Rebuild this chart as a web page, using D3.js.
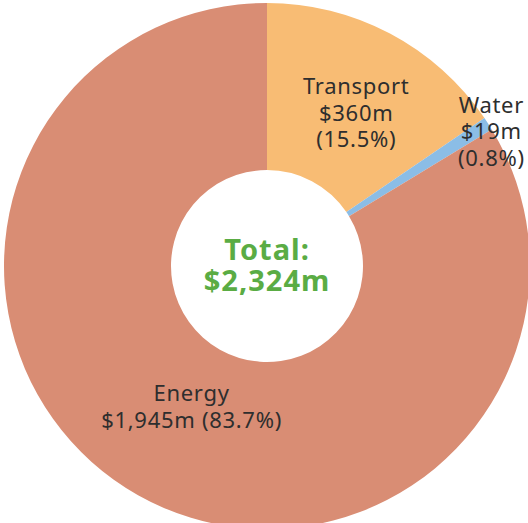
<!DOCTYPE html>
<html>
<head>
    <meta charset="utf-8">
    <title>Spend by sector</title>
    <script src="https://cdnjs.cloudflare.com/ajax/libs/d3/7.8.5/d3.min.js"></script>
    <style>
        body { margin: 0; background: #fff; }
        text {
            font-family: "Noto Sans", sans-serif;
            fill: #2e2e2e;
            text-anchor: middle;
        }
        .label {
            font-size: 22px;
            letter-spacing: 0.7px;
        }
        .total {
            font-size: 29px;
            font-weight: bold;
            letter-spacing: 1px;
            fill: #5aac44;
        }
    </style>
</head>
<body>
<svg id="chart" width="528" height="523"></svg>
<script>
    // data
    var sectors = ["Transport", "Water", "Energy"];
    var spend = [360, 19, 1945];          // $m
    var shares = ["15.5%", "0.8%", "83.7%"];
    var colours = ["#f8bc74", "#8bbde6", "#d98d74"];
    var totalLabel = ["Total:", "$2,324m"];

    var svg = d3.select("#chart"),
        cx = 267,
        cy = 266,
        outerR = 263,
        innerR = 96;

    var data = sectors.map(function(s, i) {
        return { name: s, value: spend[i], share: shares[i], colour: colours[i] };
    });

    var pie = d3.pie()
        .value(function(d) { return d.value; })
        .sort(null);

    var arc = d3.arc()
        .innerRadius(innerR)
        .outerRadius(outerR);

    var g = svg.append("g")
        .attr("transform", "translate(" + cx + "," + cy + ")");

    var arcs = pie(data);

    g.selectAll("path")
        .data(arcs)
        .enter().append("path")
        .attr("d", arc)
        .style("fill", function(d) { return d.data.colour; });

    // label radius differs per slice: water sits out at the rim
    var labelR = { Transport: 178, Water: 262, Energy: 160 };
    var nudge = { Transport: [6, 4], Water: [4, 7], Energy: [3, 1] };
    var lineH = 26.5;

    function labelLines(d) {
        if (d.name === "Energy")
            return [d.name, "$" + d3.format(",")(d.value) + "m (" + d.share + ")"];
        return [d.name, "$" + d.value + "m", "(" + d.share + ")"];
    }

    var labels = g.selectAll(".label")
        .data(arcs)
        .enter().append("text")
        .attr("class", "label")
        .attr("transform", function(d) {
            var r = labelR[d.data.name],
                n = nudge[d.data.name];
            var c = d3.arc().innerRadius(r).outerRadius(r).centroid(d);
            return "translate(" + (c[0] + n[0]) + "," + (c[1] + n[1]) + ")";
        });

    labels.selectAll("tspan")
        .data(function(d) {
            var lines = labelLines(d.data);
            return lines.map(function(t, i) { return { t: t, i: i, n: lines.length }; });
        })
        .enter().append("tspan")
        .attr("x", 0)
        .attr("y", function(d) { return (d.i - (d.n - 1) / 2) * lineH + 8; })
        .text(function(d) { return d.t; });

    g.append("text")
        .attr("class", "total")
        .selectAll("tspan")
        .data(totalLabel)
        .enter().append("tspan")
        .attr("x", 0)
        .attr("y", function(d, i) { return -6 + i * 31; })
        .text(function(d) { return d; });
</script>
</body>
</html>
